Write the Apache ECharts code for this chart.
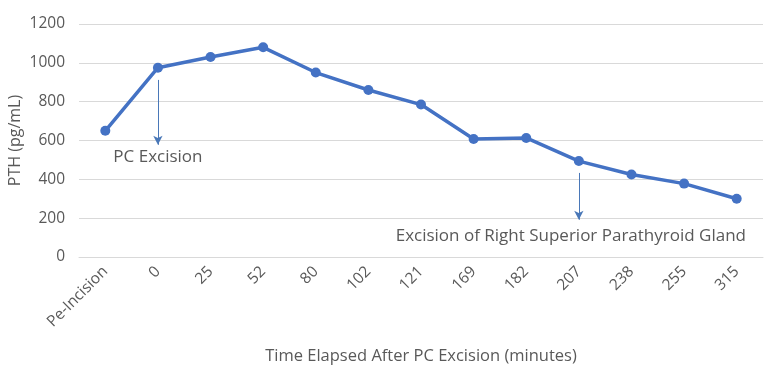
<!DOCTYPE html>
<html>
<head>
<meta charset="utf-8">
<script src="https://cdn.jsdelivr.net/npm/echarts@6/dist/echarts.min.js"></script>
<style>
  html, body { margin: 0; padding: 0; background: #fff; }
  #chart { width: 768px; height: 369px; }
</style>
</head>
<body>
<div id="chart"></div>
<script>
// time points (minutes after PC excision)
const categories = ['Pe-Incision', '0', '25', '52', '80', '102', '121', '169', '182', '207', '238', '255', '315']
// PTH values (pg/mL)
const pthValues = [650, 975, 1030, 1080, 950, 860, 785, 608, 613, 494, 425, 378, 300]
const yTicks = { min: 0, max: 1200, interval: 200 }

// annotations: arrow start/end in data units, label
const notes = [
  { cat: '0', from: 912, to: 578, text: 'PC Excision', gap: 4, shift: 0 },
  { cat: '207', from: 433, to: 192, text: 'Excision of Right Superior Parathyroid Gland', gap: 8, shift: -8 }
]

const textColor = '#595959'
const font = '"Open Sans", "Noto Sans", sans-serif'

let myChart = echarts.init(document.getElementById('chart'))
let option = {
  animation: false,
  grid: { left: 79, right: 5, top: 24, bottom: 112, outerBoundsMode: 'none', containLabel: false },
  xAxis: {
    type: 'category',
    data: categories,
    boundaryGap: true,
    name: 'Time Elapsed After PC Excision (minutes)',
    nameLocation: 'middle',
    nameGap: 91,
    nameMoveOverlap: false,
    nameTextStyle: { color: textColor, fontSize: 16.5, fontFamily: font },
    axisLine: { lineStyle: { color: '#d9d9d9' } },
    axisTick: { show: false },
    axisLabel: {
      rotate: 45,
      color: textColor,
      fontSize: 15.5,
      fontFamily: font,
      margin: 12
    }
  },
  yAxis: {
    type: 'value',
    min: yTicks.min,
    max: yTicks.max,
    interval: yTicks.interval,
    name: 'PTH (pg/mL)',
    nameLocation: 'middle',
    nameGap: 56,
    nameMoveOverlap: false,
    nameTextStyle: { color: textColor, fontSize: 16, fontFamily: font },
    axisLine: { show: false },
    axisTick: { show: false },
    axisLabel: {
      color: textColor,
      fontSize: 15.5,
      fontFamily: font,
      margin: 14,
      formatter: v => String(v)
    },
    splitLine: { lineStyle: { color: '#d9d9d9' } }
  },
  series: [
    {
      type: 'line',
      data: pthValues,
      symbol: 'circle',
      symbolSize: 10,
      lineStyle: { color: '#4472C4', width: 3.5 },
      itemStyle: { color: '#4472C4' },
      markLine: {
        silent: true,
        symbol: ['none', 'arrow'],
        symbolSize: [7, 9],
        lineStyle: { color: '#4a78b8', width: 1, type: 'solid' },
        label: {
          show: true,
          position: 'end',
          color: textColor,
          fontSize: 17,
          fontFamily: font
        },
        data: notes.map(n => [
          { coord: [n.cat, n.from] },
          { coord: [n.cat, n.to], label: { formatter: n.text, distance: n.gap, offset: [n.shift, 0] } }
        ])
      }
    }
  ]
}
myChart.setOption(option)
</script>
</body>
</html>
